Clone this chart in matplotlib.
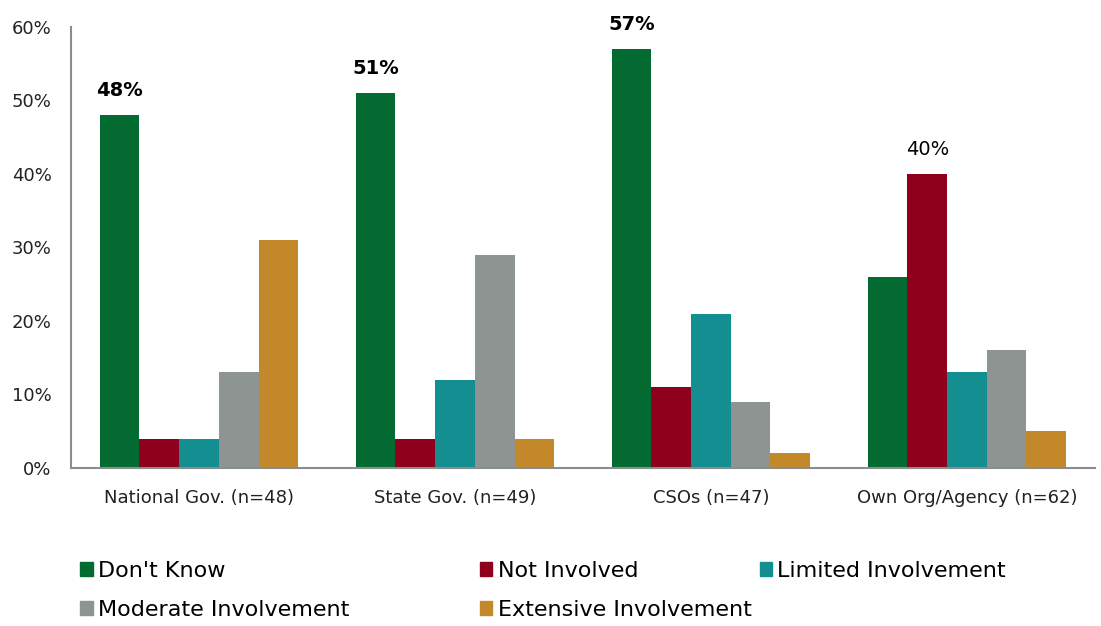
import matplotlib
matplotlib.use('Agg')
import matplotlib.pyplot as plt
import numpy as np
from matplotlib.patches import Patch

# ==================== data
categories = ['National Gov. (n=48)', 'State Gov. (n=49)', 'CSOs (n=47)', 'Own Org/Agency (n=62)']
series = ["Don't Know", 'Not Involved', 'Limited Involvement', 'Moderate Involvement', 'Extensive Involvement']
dont_know = [48, 51, 57, 26]
not_involved = [4, 4, 11, 40]
limited = [4, 12, 21, 13]
moderate = [13, 29, 9, 16]
extensive = [31, 4, 2, 5]
colors = ['#036B32', '#8E001C', '#148F91', '#8D9492', '#C3882A']

# highlighted labels: (series index, category index, bold)
labels = [(0, 0, True), (0, 1, True), (0, 2, True), (1, 3, False)]


def draw():
    plt.rcParams['font.family'] = ['DejaVu Sans']
    fig = plt.figure(figsize=(11.01, 6.26), dpi=100)
    ax = fig.add_axes([0.0645, 0.2524, 0.93, 0.7045])

    values = [dont_know, not_involved, limited, moderate, extensive]
    x = np.arange(len(categories))
    w = 0.155
    for j, (vals, c) in enumerate(zip(values, colors)):
        ax.bar(x + (j - 2) * w, vals, width=w, color=c, label=series[j])

    for s, ci, bold in labels:
        v = values[s][ci]
        ax.text(x[ci] + (s - 2) * w, v + 2.0, f'{v}%', ha='center', va='bottom',
                fontsize=14, color='black', fontweight='bold' if bold else 'normal')

    ax.set_xlim(-0.5, 3.5)
    ax.set_ylim(0, 60)
    ax.set_yticks(range(0, 61, 10))
    ax.set_yticklabels([f'{t}%' for t in range(0, 61, 10)], fontsize=13, color='#222222')
    ax.set_xticks(x)
    ax.set_xticklabels(categories, fontsize=13, color='#222222')
    ax.tick_params(axis='both', length=0)
    ax.tick_params(axis='x', pad=15)
    ax.tick_params(axis='y', pad=14)
    for sp in ['top', 'right']:
        ax.spines[sp].set_visible(False)
    for sp in ['left', 'bottom']:
        ax.spines[sp].set_color('#8c8c8c')
        ax.spines[sp].set_linewidth(1.5)

    # legend, three columns at uneven positions
    col_x = [0.073, 0.436, 0.690]
    rows = [[0, 3], [1, 4], [2]]
    for cx, idx in zip(col_x, rows):
        handles = [Patch(color=colors[i], label=series[i]) for i in idx]
        fig.legend(handles=handles, loc='upper left', bbox_to_anchor=(cx, 0.104),
                   frameon=False, fontsize=16, handlelength=0.55, handleheight=0.55,
                   handletextpad=0.25, labelspacing=0.85, borderpad=0, borderaxespad=0)

    fig.savefig('out.png', dpi=100)


draw()
